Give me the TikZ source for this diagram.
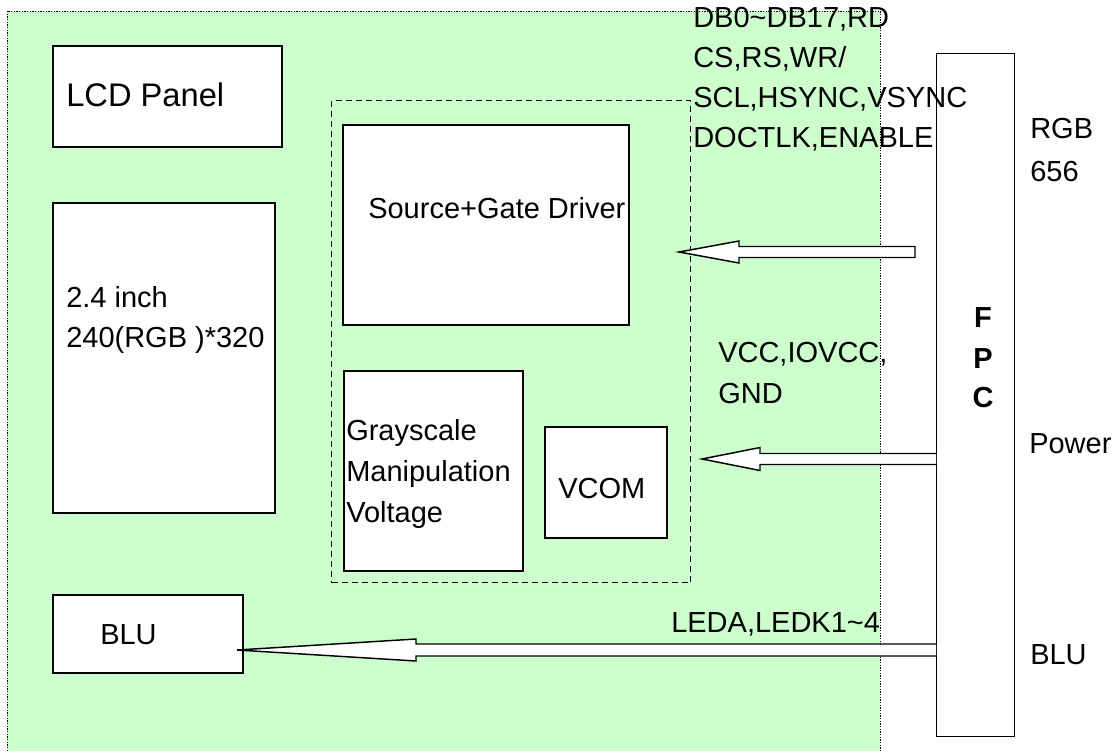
\documentclass[tikz,border=0pt]{standalone}
\usepackage{fontspec}
\setmainfont{Liberation Sans}
\usetikzlibrary{positioning,calc}
\definecolor{boardgreen}{HTML}{CCFFCC}

\begin{document}
\begin{tikzpicture}
[x=0.75pt,y=-0.75pt,%
  every node/.style={inner sep=0pt,font=\fontsize{21.75}{30.4}\selectfont},%
  blk/.style={draw,line width=1.5pt,fill=white,anchor=north west},%
  txt/.style={anchor=base west},%
  hollow/.style={draw,line width=1.1pt,fill=white,line join=miter}]
\useasboundingbox (0,0) rectangle (1114,751);
% board area
\fill[boardgreen] (7,11) rectangle (880,751);
\draw[line width=0.75pt,dash pattern=on 0.9pt off 1.1pt] (7,751) -- (7,11) -- (880,11) -- (880,751);
% boxes
\node[blk,minimum width=171.75pt,minimum height=75.75pt] (lcd) at (52,45) {};
\node[blk,minimum width=166.5pt,minimum height=232.5pt] (panel) at (52,202) {};
\node[blk,minimum width=142.5pt,minimum height=58.5pt] (blu) at (52,594) {};
\node[draw,line width=0.75pt,dash pattern=on 4.5pt off 3pt,anchor=north west,
  minimum width=269.25pt,minimum height=361.5pt] (drv) at (331,100) {};
\node[blk,minimum width=214.5pt,minimum height=150pt] (sg) at (342,124) {};
\node[blk,minimum width=134.25pt,minimum height=150pt] (gray) at (343,370) {};
\node[blk,minimum width=91.5pt,minimum height=83.25pt] (vcom) at (544,426) {};
\node[draw,line width=1pt,fill=white,anchor=north west,
  minimum width=58.5pt,minimum height=512.25pt] (fpc) at (936,53) {};
% texts
\node[txt,font=\fontsize{24.5}{30}\selectfont] (lcdtxt) at (66,106) {LCD Panel};
\node[txt] (size1) at (66,307) {2.4 inch};
\node[txt] (size2) at (66,347) {240(RGB )*320};
\node[txt] (blutxt) at (100,644) {BLU};
\node[txt] (sgtxt) at (368,218) {Source+Gate Driver};
\node[txt] (gray1) at (346,440) {Grayscale};
\node[txt] (gray2) at (346,481.5) {Manipulation};
\node[txt] (gray3) at (346,522) {Voltage};
\node[txt] (vcomtxt) at (558,498) {VCOM};
\node[anchor=base,font=\fontsize{21.75}{30.4}\selectfont\bfseries] (f) at (983,327) {F};
\node[anchor=base,font=\fontsize{21.75}{30.4}\selectfont\bfseries] (p) at (983,368) {P};
\node[anchor=base,font=\fontsize{21.75}{30.4}\selectfont\bfseries] (c) at (983,407) {C};
\node[txt] (sig1) at (693,27) {DB0\textasciitilde DB17,RD};
\node[txt] (sig2) at (693,67) {CS,RS,WR/};
\node[txt] (sig3) at (693,107) {SCL,HSYNC,VSYNC};
\node[txt] (sig4) at (693,147) {DOCTLK,ENABLE};
\node[txt] (pwr1) at (718,362) {VCC,IOVCC,};
\node[txt] (pwr2) at (718,403) {GND};
\node[txt] (led) at (671,632) {LEDA,LEDK1\textasciitilde 4};
\node[txt] (rgb1) at (1030,138) {RGB};
\node[txt] (rgb2) at (1030,181) {656};
\node[txt] (power) at (1029,453) {Power};
\node[txt] (blulbl) at (1030,664) {BLU};
% hollow arrows
\coordinate (sgtip) at (679,252);
\coordinate (pwtip) at (702,459);
\coordinate (blutip) at (237,650);
\draw[hollow] (sgtip) -- ++(60,-11) -- ++(0,5.5) -- ++(176,0) -- ++(0,11)
  -- ++(-176,0) -- ++(0,5.5) -- cycle;
\draw[hollow] ($(fpc.west |- pwtip)+(0,-5.5)$) -- ($(pwtip)+(58,-5.5)$)
  -- ($(pwtip)+(58,-11.5)$) -- (pwtip) -- ($(pwtip)+(58,11.5)$)
  -- ($(pwtip)+(58,5.5)$) -- ($(fpc.west |- pwtip)+(0,5.5)$);
\draw[hollow] ($(fpc.west |- blutip)+(0,-6)$) -- ($(blutip)+(179,-6)$)
  -- ($(blutip)+(179,-11)$) -- (blutip) -- ($(blutip)+(179,11)$)
  -- ($(blutip)+(179,6)$) -- ($(fpc.west |- blutip)+(0,6)$);
\end{tikzpicture}
\end{document}
